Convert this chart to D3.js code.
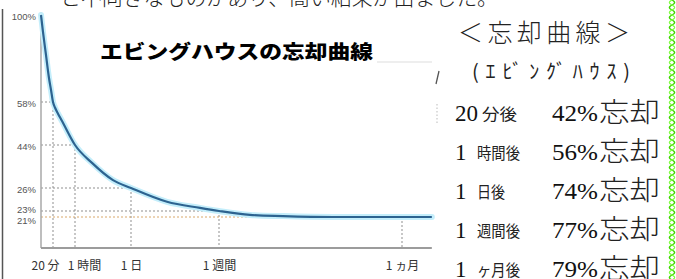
<!DOCTYPE html>
<html><head><meta charset="utf-8">
<script src="https://cdn.jsdelivr.net/npm/d3@7"></script>
<style>html,body{margin:0;padding:0;background:#fff;overflow:hidden}</style>
</head><body>
<svg id="c" width="676" height="279"></svg>
<script>
// ---- data ----
const tickMinutes = [20, 60, 1440, 10080, 43200];
const tickLabels = ["20 分", "1 時間", "1 日", "1 週間", "1 ヵ月"];
const retentionAtTick = [58, 44, 26, 23, 21];
const yTickValues = [100, 58, 44, 26, 23, 21];
const curveMinutes = [0, 3.3, 8.3, 13.3, 16.7, 20, 23.6, 29.1, 36.4, 60, 479, 996, 1440, 4975, 8215, 10080, 15690, 21660, 30710, 43200, 48600];
const curveRetention = [100, 91.8, 80.7, 69.6, 63.8, 58, 56.2, 54.2, 51.8, 44, 36.5, 29.3, 26, 24.2, 23.4, 23, 21.7, 21.3, 21, 21, 21];
const chartTitle = "エビングハウスの忘却曲線";
const topLine = "と不向きなものがあり、高い結果が出ました。";
const sideTitle = "＜忘却曲線＞";
const sideSub = "(ｴﾋﾞﾝｸﾞﾊｳｽ)";
const rowNumber = ["20", "1", "1", "1", "1"];
const rowUnit = ["分後", "時間後", "日後", "週間後", "ヶ月後"];
const rowForgot = [42, 56, 74, 77, 79];

// ---- drawing ----
const svg = d3.select("#c");
svg.append("rect").attr("width", 676).attr("height", 279).attr("fill", "#fff");

const JP = "'Noto Sans CJK JP','Noto Sans',sans-serif";
const SERIF = "'Liberation Serif','DejaVu Serif',serif";

// clipped top line of text
svg.append("text").attr("x", 60).attr("y", 5)
  .attr("font-family", JP).attr("font-size", 21).attr("font-weight", 300)
  .attr("fill", "#222").attr("textLength", 438).attr("lengthAdjust", "spacingAndGlyphs")
  .text(topLine);

// left border of the chart picture
svg.append("line").attr("x1", 2.5).attr("x2", 2.5).attr("y1", 9).attr("y2", 279)
  .attr("stroke", "#555").attr("stroke-width", 1.5);

const x = d3.scaleLinear().domain([0, ...tickMinutes]).range([41, 53, 75, 131, 219, 402]);
const y = d3.scaleLinear().domain([0, 21, 23, 26, 44, 58, 100]).range([248, 217, 211, 188, 145, 102, 15]);

// grid guides
const g = svg.append("g");
tickMinutes.forEach((m, i) => {
  const col = i === 4 ? "#d9a86a" : "#8f8f8f";
  g.append("line").attr("x1", x(0)).attr("x2", x(m))
    .attr("y1", y(retentionAtTick[i])).attr("y2", y(retentionAtTick[i]))
    .attr("stroke", col).attr("stroke-width", 1).attr("stroke-dasharray", "2,2");
  g.append("line").attr("x1", x(m)).attr("x2", x(m))
    .attr("y1", y(retentionAtTick[i])).attr("y2", y(0))
    .attr("stroke", "#8f8f8f").attr("stroke-width", 1).attr("stroke-dasharray", "2,2");
});

// axes lines
svg.append("line").attr("x1", x(0)).attr("x2", x(0)).attr("y1", 12).attr("y2", y(0))
  .attr("stroke", "#a8a8a8").attr("stroke-width", 1.5);
svg.append("line").attr("x1", x(0)).attr("x2", x(48600)).attr("y1", y(0)).attr("y2", y(0))
  .attr("stroke", "#9c9c9c").attr("stroke-width", 2);

// y axis labels
const ya = svg.append("g").attr("transform", `translate(${x(0) - 1},1.5)`)
  .call(d3.axisLeft(y).tickValues(yTickValues).tickSize(0).tickPadding(4).tickFormat(d => d + "%"));
ya.select(".domain").remove();
ya.selectAll("text").attr("font-family", "'Liberation Sans Narrow','Liberation Sans',Arial,sans-serif")
  .attr("font-size", 9.5).attr("fill", "#555")
  .attr("dy", d => d === 23 ? "-0.05em" : d === 21 ? "0.5em" : "0.32em");

// x axis labels
const xa = svg.append("g").attr("transform", `translate(0,${y(0)})`)
  .call(d3.axisBottom(x).tickValues(tickMinutes).tickSize(0).tickPadding(13)
    .tickFormat((d, i) => tickLabels[i]));
xa.select(".domain").remove();
xa.selectAll("text").attr("font-family", JP).attr("font-size", 12).attr("fill", "#333")
  .attr("dx", (d, i) => i === 0 ? -8 : i === 1 ? 9 : 0);

// curve
const pts = curveMinutes.map((m, i) => [m, curveRetention[i]]);
const line = d3.line().x(d => x(d[0])).y(d => y(d[1])).curve(d3.curveMonotoneX);
svg.append("path").attr("d", line(pts)).attr("fill", "none")
  .attr("stroke", "#c4eefb").attr("stroke-width", 6).attr("stroke-linecap", "round");
svg.append("path").attr("d", line(pts)).attr("fill", "none")
  .attr("stroke", "#2d6390").attr("stroke-width", 2.2);

// chart title
svg.append("text").attr("x", 100).attr("y", 59)
  .attr("font-family", JP).attr("font-size", 19).attr("font-weight", 900)
  .attr("fill", "#000").attr("textLength", 273).attr("lengthAdjust", "spacingAndGlyphs")
  .text(chartTitle);

// fragments at the cut edge of the picture
svg.append("line").attr("x1", 377).attr("x2", 432).attr("y1", 62).attr("y2", 62)
  .attr("stroke", "#eee").attr("stroke-width", 2);
svg.append("line").attr("x1", 439).attr("x2", 436).attr("y1", 71).attr("y2", 84)
  .attr("stroke", "#555").attr("stroke-width", 1.3);
svg.append("line").attr("x1", 437).attr("x2", 437).attr("y1", 104).attr("y2", 124)
  .attr("stroke", "#bbb").attr("stroke-width", 1).attr("stroke-dasharray", "1.5,2");

// side text
svg.append("text").attr("x", 458).attr("y", 42)
  .attr("font-family", JP).attr("font-size", 25).attr("font-weight", 300).attr("fill", "#222")
  .attr("textLength", 172).attr("lengthAdjust", "spacing").text(sideTitle);
svg.append("text").attr("x", 472).attr("y", 79)
  .attr("font-family", JP).attr("font-size", 20).attr("font-weight", 400).attr("fill", "#222")
  .attr("textLength", 158).attr("lengthAdjust", "spacing").text(sideSub);

const rowBase = d3.scaleLinear().domain([0, 1]).range([121, 160]);
rowNumber.forEach((n, i) => {
  const by = rowBase(i);
  svg.append("text").attr("x", 455).attr("y", by)
    .attr("font-family", SERIF).attr("font-size", 23).attr("fill", "#111").text(n);
  svg.append("text").attr("x", n.length === 2 ? 482 : 477).attr("y", by - 1)
    .attr("font-family", JP).attr("font-size", 16).attr("font-weight", 400).attr("fill", "#222")
    .attr("textLength", rowUnit[i].length === 2 ? (i === 0 ? 35 : 28) : 43)
    .attr("lengthAdjust", "spacingAndGlyphs").text(rowUnit[i]);
  svg.append("text").attr("x", 552).attr("y", by)
    .attr("font-family", SERIF).attr("font-size", 23).attr("fill", "#111")
    .attr("textLength", 46).attr("lengthAdjust", "spacingAndGlyphs").text(rowForgot[i] + "%");
  svg.append("text").attr("x", 599).attr("y", by + 1)
    .attr("font-family", JP).attr("font-size", 27).attr("font-weight", 300).attr("fill", "#222")
    .attr("textLength", 61).attr("lengthAdjust", "spacingAndGlyphs").text("忘却");
});

// green wavy border
const ys = d3.range(0, 280, 0.5);
const wave = (phase) => d3.line().x(v => 672 + 2.6 * Math.sin(2 * Math.PI * v / 10 + phase)).y(v => v)(ys);
svg.append("path").attr("d", wave(0)).attr("fill", "none").attr("stroke", "#3fd400").attr("stroke-width", 1.4);
svg.append("path").attr("d", wave(Math.PI)).attr("fill", "none").attr("stroke", "#7cff3a").attr("stroke-width", 1.2);
</script>
</body></html>
